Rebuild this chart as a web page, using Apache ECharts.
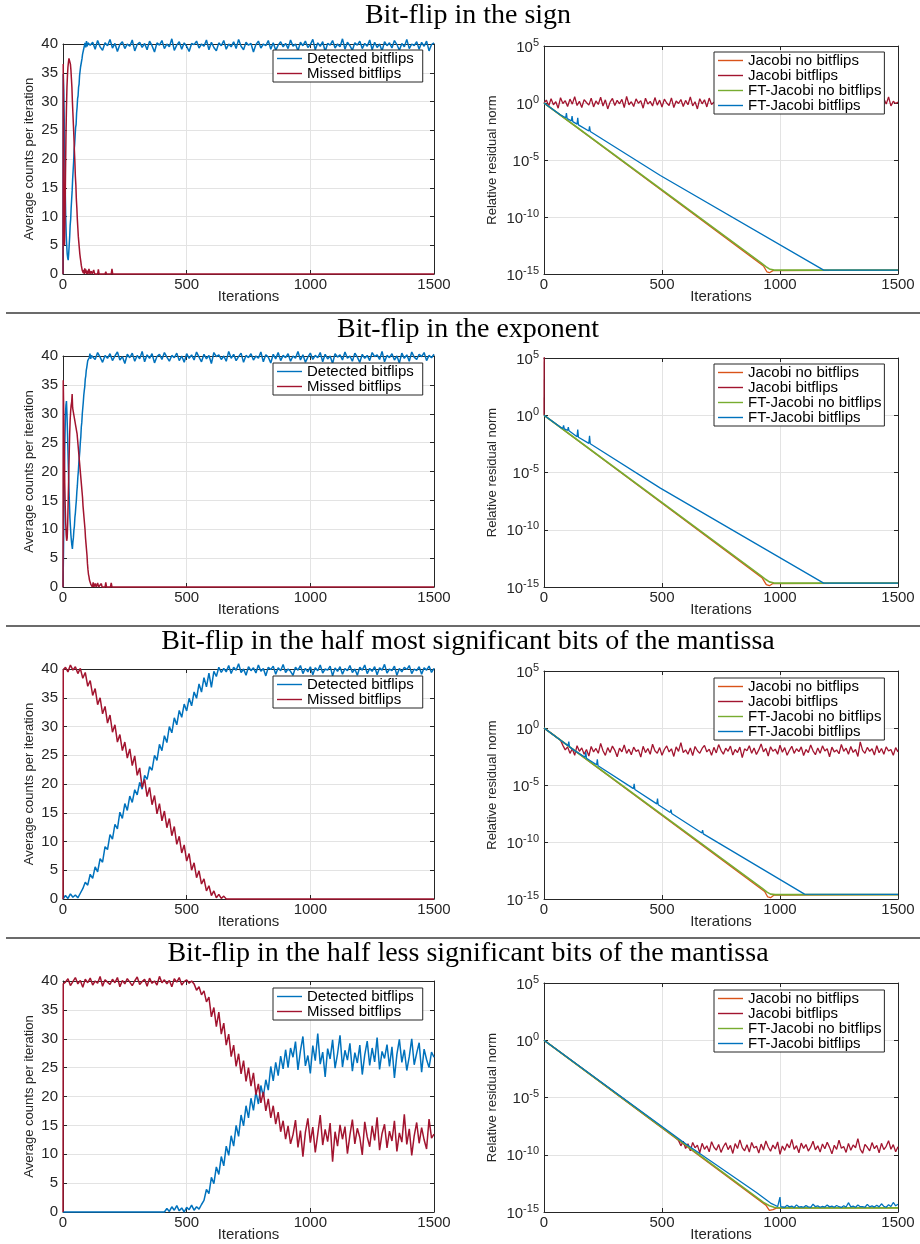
<!DOCTYPE html>
<html><head><meta charset="utf-8">
<script src="https://cdn.jsdelivr.net/npm/echarts@6.0.0/dist/echarts.min.js"></script>
<style>html,body{margin:0;padding:0;background:#fff}#c{width:920px;height:1244px}</style>
</head><body><div id="c"></div>
<script>
// ---------------- DATA ----------------
const STEP = 10; // spacing (iterations) of the sampled value arrays
const TITLES = ['Bit-flip in the sign', 'Bit-flip in the exponent',
  'Bit-flip in the half most significant bits of the mantissa',
  'Bit-flip in the half less significant bits of the mantissa'];
const LEFT_NAMES = ['Detected bitflips', 'Missed bitflips'];
const RIGHT_NAMES = ['Jacobi no bitflips', 'Jacobi bitflips', 'FT-Jacobi no bitflips', 'FT-Jacobi bitflips'];

// Panel 1 (sign) - counts
const det1Head = [[0,0],[1,34.8],[3,32],[5,27],[7,21],[9,15],[11,10],[13,7],[15,5],[17,3.5],[19,2.8],[21,2.4],[23,3.5],[25,5],[27,6.5],[29,8.5],[31,9.5],[33,11.5],[35,13],[37,14.5],[39,16.5],[41,18],[43,19.5],[45,21.5],[47,22.5],[49,24],[51,25.5],[53,26],[55,28],[57,29],[59,30.5],[61,31],[63,32.5],[65,33],[67,34.5],[69,34.8],[71,36],[73,36.2],[75,37],[77,37.5],[79,38.2],[81,38],[83,39],[86,39.3],[89,40.2],[92,39.4],[95,40.5],[98,39.6],[101,40.2]];
const det1Tail = [ // from iteration 110
 39.8,40.3,39.1,40.6,39.5,38.9,40.2,39.7,40.8,39.3,40.1,38.7,39.9,40.4,39.2,40.0,39.6,40.7,38.8,39.9,
 40.3,39.4,40.1,39.0,40.5,39.7,38.6,40.2,39.8,40.6,39.2,40.0,39.5,40.9,38.9,39.8,40.4,39.1,40.2,39.6,
 38.7,40.1,39.9,40.5,39.3,40.0,39.6,40.7,39.0,40.3,39.4,38.8,40.2,39.7,40.6,39.1,40.0,39.5,40.4,39.2,
 40.8,39.6,39.0,40.3,39.8,40.1,38.6,39.9,40.5,39.3,40.0,39.7,40.6,39.1,40.2,38.9,39.8,40.4,39.5,40.1,
 39.2,40.7,39.6,40.0,38.8,40.3,39.7,40.5,39.4,39.9,40.8,39.0,40.2,39.6,40.4,38.7,40.1,39.8,40.6,39.3,
 40.0,39.5,40.9,39.1,40.3,39.7,38.9,40.2,39.8,40.5,39.2,40.1,39.6,40.7,39.0,40.3,39.4,40.0,38.8,40.4,
 39.7,40.2,39.3,40.6,39.9,38.9,40.1,39.5,40.8,39.2,40.0,39.7,40.4,39.1,40.3,39.6,40.5,38.8,39.9,40.2];
const miss1 = [[0,0],[1,36.5],[2,28],[4,12],[6,5],[8,9],[10,17],[12,24],[14,29],[16,32.5],[18,34.5],[20,36],[22,36.8],[24,37.5],[26,37.2],[28,37.8],[30,36.5],[32,35.5],[34,34],[36,32.5],[38,30],[40,28],[42,26],[44,24],[46,21.5],[48,19.5],[50,17],[52,15.5],[54,13],[56,11.5],[58,9.5],[60,8],[62,6.5],[64,5.5],[66,4.5],[68,3.5],[70,2.8],[72,2.2],[74,1.5],[76,1.2],[78,0.6],[80,0.9],[82,0.2],[84,0.7],[86,0],[88,1],[90,0.2],[92,0.8],[95,0],[98,0.6],[101,0],[105,0.9],[109,0],[114,0.5],[118,0],[124,0.7],[128,0],[140,0],[143,0.8],[146,0],[170,0],[173,0.4],[176,0],[195,0],[198,0.9],[201,0],[1500,0]];

// Panel 2 (exponent) - counts
const det2Head = [[0,0],[2,6],[4,14],[6,21],[8,26],[10,30],[12,31.5],[14,32.2],[16,30],[18,27],[20,23.5],[22,20],[24,17],[26,14.5],[28,12],[30,10.5],[32,9],[34,8],[36,7.2],[38,6.6],[40,7.8],[42,8.5],[44,9.8],[46,10.5],[48,12],[50,12.8],[52,14],[54,15],[56,16.5],[58,17.5],[60,19],[62,20],[64,21.5],[66,22.5],[68,23.5],[70,25],[72,26],[74,27.7],[76,28.5],[78,30],[80,31],[82,32],[84,33.2],[86,34],[88,34.7],[90,36],[92,36.5],[94,37.5],[96,38],[98,38.6],[100,39.2],[103,38.9],[106,39.7],[109,40.4],[112,39.5],[115,40.1]];
const det2Tail = [ // from iteration 120
 40.2,39.4,40.6,39.8,38.9,40.1,39.6,40.4,39.2,40.0,40.7,39.3,39.9,38.7,40.3,39.7,40.5,39.1,40.1,39.5,
 40.8,39.0,40.2,39.6,40.4,38.8,39.9,40.3,39.4,40.6,39.8,39.1,40.1,39.7,40.5,39.2,40.0,38.9,40.4,39.6,
 40.2,39.3,40.7,39.8,39.0,40.3,39.5,40.1,38.7,40.6,39.9,40.2,39.4,40.0,39.1,40.8,39.6,40.3,39.2,39.9,
 40.5,38.9,40.1,39.7,40.4,39.3,40.0,39.6,40.7,39.0,40.2,39.8,38.8,40.3,39.5,40.6,39.2,40.1,39.7,40.4,
 39.1,40.0,39.6,40.8,39.3,40.2,38.9,39.8,40.5,39.4,40.1,39.7,40.6,39.0,40.3,39.5,40.0,38.7,40.4,39.8,
 40.2,39.3,40.7,39.6,40.0,39.1,40.5,39.8,38.9,40.3,39.6,40.1,39.2,40.6,39.9,40.2,39.4,40.8,39.0,40.1,
 39.7,40.4,39.3,40.0,38.8,40.5,39.6,40.2,39.1,40.7,39.8,39.4,40.3,39.9,40.6,39.2,40.1,39.7,40.3];
const miss2 = [[0,0],[1,35.8],[3,30],[5,24],[7,18],[9,14],[11,11],[13,9],[15,8],[17,8.5],[19,11],[21,15],[23,19],[25,23],[27,26.5],[29,29],[31,30.5],[33,31.5],[35,32],[37,33.4],[39,31],[41,30.5],[43,30.8],[45,29.5],[47,29.8],[49,28.5],[51,28],[53,27.5],[55,27],[57,26.5],[59,25.5],[61,24.5],[63,23.5],[65,22.5],[67,21.5],[69,20.5],[71,19.5],[73,18.5],[75,17.5],[77,16.5],[79,15.5],[81,14],[83,13],[85,12],[87,11],[89,10],[91,8.5],[93,7.5],[95,6.5],[97,5.5],[99,4],[101,3],[103,2.2],[105,1.8],[107,1.2],[110,1],[113,0.4],[116,0.7],[119,0],[122,0.8],[125,0],[130,0.6],[134,0],[140,0.7],[144,0],[152,0],[155,0.6],[158,0],[170,0],[173,0.8],[176,0],[192,0],[195,0.7],[198,0],[1500,0]];

// Panel 3 (high mantissa) - counts
const det3 = [ // from iteration 0
 0,0.6,0.1,0.9,0.3,0.7,0.2,1.0,
 1.8,2.9,2.4,4.3,3.6,5.6,4.7,7.0,6.4,9.1,8.6,11.2,10.4,13.0,12.2,15.1,14.0,16.6,15.4,17.9,16.8,19.0,
 18.1,20.3,19.1,21.5,20.8,23.0,22.4,25.0,24.1,26.9,25.8,28.4,27.2,30.0,28.9,31.5,30.3,32.8,31.6,33.9,
 32.7,34.9,33.6,36.0,34.9,37.4,36.0,38.5,36.9,39.3,36.8,39.6,38.7,40.3,39.4,
 40.1,39.5,40.6,39.2,40.3,39.8,40.9,39.4,40.0,38.9,40.4,39.7,40.2,39.3,40.7,39.6,40.1,38.8,40.3,39.9,
 40.5,39.1,40.2,39.7,40.8,39.4,40.0,39.6,38.9,40.3,39.8,40.6,39.2,40.1,39.5,40.4,39.0,40.2,39.7,40.7,
 39.3,40.0,39.8,40.5,38.8,40.2,39.6,40.4,39.1,40.1,39.7,40.6,39.4,40.0,38.9,40.3,39.8,40.7,39.2,40.1,
 39.6,40.4,39.0,40.2,39.8,40.8,39.3,40.0,39.7,40.5,38.9,40.1,39.5,40.3,39.9,40.6,39.2,40.0,39.7,40.4,
 39.1,40.2,39.8,40.5,39.4,40.1];
const miss3Head = [[0,0],[1,39.8]];
const miss3 = [ // from iteration 10
 40.3,39.5,40.7,39.8,40.4,39.2,40.1,
 38.4,39.4,37.0,38.0,35.4,36.6,33.8,35.0,32.2,33.5,30.6,32.0,29.0,30.3,27.3,28.6,25.8,27.3,24.5,26.1,
 23.2,24.9,21.5,22.8,19.4,20.8,17.8,19.4,16.4,18.0,14.8,16.6,13.6,15.3,12.4,14.0,11.0,12.6,9.5,10.9,
 8.0,9.4,6.6,7.9,5.0,6.3,3.7,4.9,2.6,3.5,1.4,2.3,0.6,1.4,0.2,0.8,0.1,0.5,0];
const miss3End = [[1500,0]];

// Panel 4 (low mantissa) - counts
const miss4Head = [[0,0],[1,39.5]];
const miss4 = [ // from iteration 10
 39.8,40.4,39.2,39.9,40.6,39.5,40.1,38.9,40.3,39.7,40.5,39.3,40.0,39.6,40.8,39.1,40.2,39.8,39.4,40.3,
 39.7,40.6,39.0,40.1,39.5,40.4,39.8,39.2,40.0,40.7,39.4,39.9,40.3,39.1,40.5,39.6,40.0,39.3,40.8,39.7,
 40.2,39.5,40.1,39.0,40.4,39.8,40.6,39.3,39.9,40.2,39.6,40.0,
 39.5,38.4,39.0,37.6,38.3,36.4,37.2,33.8,35.4,32.1,34.6,30.8,32.7,28.9,30.8,26.9,28.9,25.2,27.4,23.9,
 26.2,22.6,25.0,21.8,24.1,20.3,22.2,18.9,20.8,17.5,19.6,16.3,18.4,15.2,17.3,13.9,15.8,12.6,14.9,11.8,
 13.4,15.9,11.2,14.1,9.6,13.8,16.2,12.0,14.7,10.3,13.5,16.8,11.6,14.3,12.2,15.4,8.7,13.9,11.4,15.1,
 12.6,14.8,10.1,13.3,16.0,11.8,14.5,12.9,9.9,15.6,13.0,11.3,14.9,12.4,16.4,10.7,13.6,15.2,11.1,14.0,
 12.3,15.8,10.5,13.7,12.1,16.9,11.7,14.4,9.8,13.2,15.5,11.9,14.6,12.5,10.9,16.1,12.8,13.5];
const det4Head = [[0,0],[410,0]];
const det4 = [ // from iteration 420
 0.6,0.1,0.9,0.3,1.1,0.2,0.7,0.0,0.8,0.4,1.2,0.3,0.9,0.5,1.3,
 2.0,3.9,3.2,6.0,4.9,7.8,6.5,9.6,8.0,11.4,9.8,13.2,11.4,15.0,13.1,16.8,14.9,18.4,16.3,19.7,
 17.6,20.8,18.7,21.9,20.0,22.9,21.1,25.2,22.7,25.9,23.6,27.0,24.8,28.1,25.0,28.4,
 26.8,29.5,24.6,27.9,30.4,25.3,27.1,24.0,28.8,26.2,30.9,25.6,27.7,23.4,28.3,26.5,29.8,24.9,27.4,30.6,
 25.1,28.0,26.3,29.2,24.4,27.6,25.8,28.9,23.8,27.2,29.6,25.4,28.4,26.0,30.2,24.7,27.8,26.6,29.0,25.2,
 28.6,23.2,27.3,29.9,25.9,28.1,24.5,26.9,30.0,25.5,27.5,29.3,24.2,28.2,26.4,25.0,27.7,26.8];

// Residual norms
const jac1 = [[0,1],[930,5e-15],[945,1.5e-15],[955,1.3e-15],[970,2e-15],[1500,2.2e-15]];
const ftj1 = [[0,1],[920,9.5e-15],[940,4.5e-15],[955,2.8e-15],[975,2.2e-15],[1500,2.2e-15]];
const ftb1 = [[0,1],[69,9.3e-2],[92,5.1e-2],[95,1.3e-1],[98,4.4e-2],[116,2.7e-2],[119,7e-2],[122,2.3e-2],[140,1.4e-2],[143,5e-2],[146,1.2e-2],[190,3.5e-3],[193,8.9e-3],[196,3.2e-3],[493,4.4e-7],[1185,2.2e-15],[1500,2.2e-15]];
const jbf1 = [ // from iteration 0
 1,1.8,0.55,2.4,0.7,1.3,0.35,2.9,0.9,1.6,0.5,2.2,0.8,3.6,0.6,1.4,0.4,2.0,1.1,0.65,
 2.7,0.45,1.5,0.75,3.2,0.55,1.9,0.3,1.2,2.5,0.6,1.7,0.85,2.1,0.4,3.8,0.7,1.3,0.5,2.3,
 0.95,1.6,0.35,2.6,0.8,1.4,0.55,3.0,0.65,1.8,0.45,2.2,1.0,0.6,2.8,0.4,1.5,0.9,2.0,0.5,
 1.7,0.7,3.4,0.55,1.3,0.3,2.4,0.85,1.9,0.45,2.7,0.75,1.2,0.5,3.1,0.65,1.6,0.4,2.1,0.95,
 0.6,2.5,0.8,1.4,0.35,2.9,0.7,1.8,0.5,2.2,0.9,3.5,0.6,1.5,0.45,2.0,1.1,0.55,2.6,0.75,
 1.9,0.4,2.3,0.85,3.0,0.6,1.3,0.3,2.1,0.95,1.6,0.5,2.8,0.7,1.4,0.45,3.3,0.8,1.7,0.55,
 2.4,0.65,1.2,0.35,2.0,0.9,3.1,0.5,1.8,0.75,2.6,0.4,1.5,0.85,0.25,2.2,0.6,1.9,1.0,0.5,
 2.9,0.7,1.6,0.45,2.3,0.8,3.4,0.55,1.4,0.9,1.2];

const jac2 = [[0,1],[925,6e-15],[942,1.6e-15],[955,1.3e-15],[970,2e-15],[1500,2.2e-15]];
const jbf2 = [[0,1],[2,1e12]];
const ftj2 = [[0,1],[920,9.5e-15],[940,4.5e-15],[955,2.8e-15],[975,2.2e-15],[1500,2.2e-15]];
const ftb2 = [[0,1],[69,9.3e-2],[80,7e-2],[83,1.3e-1],[86,6.5e-2],[100,4.7e-2],[103,9e-2],[106,4.4e-2],[140,1.3e-2],[143,5.5e-2],[146,1.2e-2],[190,3.5e-3],[193,1.6e-2],[196,3.2e-3],[493,4.3e-7],[1185,2.2e-15],[1500,2.2e-15]];

const jac3 = [[0,1],[935,4.5e-15],[948,1.5e-15],[960,1.3e-15],[975,2.2e-15],[1500,2.4e-15]];
const ftj3 = [[0,1],[925,8.5e-15],[945,4e-15],[960,2.7e-15],[980,2.4e-15],[1500,2.4e-15]];
const ftb3 = [[0,1],[102,2.8e-2],[105,6.3e-2],[108,2.2e-2],[127,1.15e-2],[174,2.7e-3],[177,7.9e-3],[180,2.2e-3],[223,5.9e-4],[226,1.8e-3],[229,4.9e-4],[379,4.8e-6],[382,1.26e-5],[385,4e-6],[478,2.2e-7],[481,6.3e-7],[484,1.86e-7],[535,3.9e-8],[538,7e-8],[541,3.2e-8],[669,6.2e-10],[672,1.1e-9],[675,5.1e-10],[1104,2.7e-15],[1500,2.5e-15]];
const jbf3Head = [[0,1],[40,0.25],[70,0.085]];
const jbf3 = [ // from iteration 80
 0.03,0.012,0.022,0.006,0.015,0.004,0.028,0.009,0.018,0.005,0.013,0.0035,0.024,0.008,0.016,0.006,0.045,0.01,0.004,0.019,
 0.007,0.026,0.011,0.003,0.017,0.008,0.032,0.006,0.014,0.0045,0.021,0.009,0.012,0.0028,0.025,0.007,0.016,0.005,0.038,0.01,
 0.006,0.019,0.004,0.013,0.027,0.008,0.015,0.0032,0.022,0.009,0.052,0.007,0.012,0.005,0.018,0.0038,0.024,0.01,0.006,0.016,
 0.03,0.008,0.014,0.004,0.02,0.0065,0.035,0.011,0.005,0.017,0.009,0.026,0.0042,0.013,0.007,0.021,0.0025,0.015,0.01,0.028,
 0.006,0.018,0.0048,0.012,0.04,0.008,0.016,0.0035,0.023,0.009,0.014,0.005,0.031,0.0075,0.019,0.004,0.011,0.025,0.006,0.015,
 0.0085,0.022,0.0038,0.013,0.007,0.033,0.01,0.0045,0.018,0.006,0.027,0.0095,0.015,0.003,0.021,0.008,0.012,0.0055,0.036,0.009,
 0.017,0.005,0.024,0.0072,0.013,0.0032,0.06,0.011,0.006,0.02,0.0088,0.015,0.0042,0.028,0.0068,0.016,0.005,0.022,0.0095,0.013,
 0.004,0.019,0.008];

const jac4 = [[0,1],[940,4e-15],[955,1.4e-15],[970,1.6e-15],[985,2.2e-15],[1500,2.3e-15]];
const ftj4 = [[0,1],[930,7e-15],[955,3.5e-15],[975,2.6e-15],[1000,2.3e-15],[1500,2.3e-15]];
const ftb4Head = [[0,1],[600,9e-10],[900,5e-14],[960,6e-15],[990,3e-15],[997,3e-15],[1000,2e-14],[1003,3e-15]];
const ftb4Tail = [ // from iteration 1010
 3.1e-15,2.6e-15,3.8e-15,2.8e-15,3.3e-15,2.5e-15,4.2e-15,2.7e-15,3.0e-15,2.6e-15,
 3.6e-15,2.8e-15,2.5e-15,4.8e-15,2.9e-15,3.4e-15,2.6e-15,3.1e-15,2.7e-15,4.0e-15,
 2.8e-15,3.2e-15,2.6e-15,3.7e-15,2.9e-15,2.5e-15,3.5e-15,2.7e-15,6.5e-15,2.8e-15,
 3.3e-15,2.6e-15,4.1e-15,2.9e-15,3.0e-15,2.6e-15,4.6e-15,2.8e-15,3.4e-15,2.7e-15,
 3.9e-15,2.8e-15,5.2e-15,3.1e-15,2.6e-15,4.4e-15,3.0e-15,6.8e-15,3.5e-15,4.7e-15];
const jbf4Head = [[0,1],[560,3e-9]];
const jbf4 = [ // from iteration 570
 1.8e-9,6e-10,1.5e-9,3.5e-10,9e-10,2.2e-10,1.2e-9,4e-10,7e-10,1.5e-10,1.0e-9,3e-10,6e-10,1.8e-10,1.4e-9,4.5e-10,2.5e-10,8e-10,1.6e-10,5e-10,
 1.1e-9,2.8e-10,6.5e-10,1.3e-10,9.5e-10,3.5e-10,2e-9,4.2e-10,2.2e-10,7.5e-10,1.7e-10,1.2e-9,3.8e-10,5.5e-10,1.4e-10,8.5e-10,2.6e-10,1.6e-9,4.8e-10,2e-10,
 7e-10,3.2e-10,1.3e-9,1.1e-10,5.8e-10,2.4e-10,9e-10,4e-10,2.2e-9,3e-10,6.2e-10,1.5e-10,1.05e-9,3.6e-10,7.8e-10,2.1e-10,4.6e-10,1.5e-9,2.7e-10,6e-10,
 1.7e-10,8.8e-10,3.3e-10,1.25e-9,4.4e-10,1.2e-10,6.8e-10,2.9e-10,1.9e-9,3.7e-10,5.2e-10,1.6e-10,9.8e-10,2.5e-10,7.2e-10,4.1e-10,2.6e-9,3.1e-10,1.35e-10,8e-10,
 4.5e-10,2.2e-10,1.15e-9,3.4e-10,6.6e-10,1.45e-10,1.0e-9,2.8e-10,5.4e-10,1.7e-9,3e-10,7.6e-10,1.8e-10,5e-10];

// ---------------- BUILD ----------------
function seq(start, values) { return values.map((v, i) => [start + i * STEP, v]); }

const BLUE = '#0072BD', RED = '#A2142F', ORANGE = '#D95319', GREEN = '#77AC30';
const LEFT_COLORS = [BLUE, RED];
const RIGHT_COLORS = [ORANGE, RED, GREEN, BLUE];
const AX = '#262626', GRIDC = '#e3e3e3';
const SANS = "'Liberation Sans', Arial, Helvetica, sans-serif";
const SERIF = "'Liberation Serif', 'Times New Roman', serif";

const LEFT_DATA = [
  [det1Head.concat(seq(110, det1Tail)), miss1],
  [det2Head.concat(seq(120, det2Tail)), miss2],
  [seq(0, det3), miss3Head.concat(seq(10, miss3), miss3End)],
  [det4Head.concat(seq(420, det4)), miss4Head.concat(seq(10, miss4))]
];
const RIGHT_DATA = [
  [jac1, seq(0, jbf1), ftj1, ftb1],
  [jac2, jbf2, ftj2, ftb2],
  [jac3, jbf3Head.concat(seq(80, jbf3)), ftj3, ftb3],
  [jac4, jbf4Head.concat(seq(570, jbf4)), ftj4, ftb4Head.concat(seq(1010, ftb4Tail))]
];

const L_GRIDS = [{top:44,height:230},{top:356,height:231},{top:669,height:230},{top:981,height:231}];
const R_GRIDS = [{top:46,height:228},{top:358,height:229},{top:671,height:228},{top:983,height:229}];
const L_LEG = [50, 363, 676, 988];
const R_LEG = [52, 364, 678, 990];
const TITLE_Y = [15.5, 330, 642, 954];
const SEP_Y = [313, 626, 938];

const grid = [], xAxis = [], yAxis = [], series = [], legend = [], graphic = [];

function addAxes(g, isLog) {
  const axisLine = {show:true, onZero:false, lineStyle:{color:AX, width:1}};
  const axisTick = {show:true, inside:true, length:4, lineStyle:{color:AX, width:1}};
  const xBase = {type:'value', gridIndex:g, min:0, max:1500, interval:500, axisLine, axisTick};
  xAxis.push(Object.assign({}, xBase, {position:'bottom',
    splitLine:{show:true, lineStyle:{color:GRIDC, width:1}},
    axisLabel:{show:true, margin:3, color:AX, fontSize:15, fontFamily:SANS, formatter: v => String(v)},
    name:'Iterations', nameLocation:'middle', nameGap:15, nameMoveOverlap:false,
    nameTextStyle:{color:AX, fontSize:15, fontFamily:SANS}}));
  xAxis.push(Object.assign({}, xBase, {position:'top', splitLine:{show:false}, axisLabel:{show:false}}));
  let yBase;
  if (isLog) {
    yBase = {type:'log', logBase:10, gridIndex:g, min:1e-15, max:1e5, interval:5, axisLine, axisTick};
  } else {
    yBase = {type:'value', gridIndex:g, min:0, max:40, interval:5, axisLine, axisTick};
  }
  const label = isLog ? {
    show:true, margin:5, color:AX, fontFamily:SANS, hideOverlap:false,
    formatter: v => '{b|10}{s|' + Math.round(Math.log10(v)) + '}',
    rich:{ b:{fontSize:15, lineHeight:18, verticalAlign:'bottom', color:AX, fontFamily:SANS},
           s:{fontSize:11, lineHeight:11, verticalAlign:'top', color:AX, fontFamily:SANS} }
  } : {show:true, margin:5, color:AX, fontSize:15, fontFamily:SANS};
  yAxis.push(Object.assign({}, yBase, {position:'left',
    splitLine:{show:true, lineStyle:{color:GRIDC, width:1}},
    axisLabel:label,
    name: isLog ? 'Relative residual norm' : 'Average counts per iteration',
    nameLocation:'middle', nameGap: isLog ? 45 : 27, nameMoveOverlap:false,
    nameTextStyle:{color:AX, fontSize:13, fontFamily:SANS}}));
  yAxis.push(Object.assign({}, yBase, {position:'right', splitLine:{show:false}, axisLabel:{show:false}}));
}

function addLine(g, name, color, data, clip, width) {
  series.push({type:'line', name, data, xAxisIndex:2*g, yAxisIndex:2*g,
    symbol:'none', showSymbol:false, clip, silent:true, animation:false,
    color, lineStyle:{color, width}, itemStyle:{color}});
}

function makeLegend(names, colors, left, top, padRight) {
  return {data:names.map((n, i) => ({name:n, icon:'rect',
      itemStyle:{color:colors[i], borderWidth:0, opacity:1}})),
    orient:'vertical', left, top, selectedMode:false,
    itemWidth:25, itemHeight:1.4, itemGap:0, padding:[1, padRight, 1, 4],
    backgroundColor:'#fff', borderColor:AX, borderWidth:1, borderRadius:0,
    textStyle:{color:'#000', fontSize:15, fontFamily:SANS, lineHeight:13}};
}

for (let p = 0; p < 4; p++) {
  const gl = 2*p, gr = 2*p + 1;
  grid.push({left:63, width:371, top:L_GRIDS[p].top, height:L_GRIDS[p].height, containLabel:false});
  grid.push({left:544, width:354, top:R_GRIDS[p].top, height:R_GRIDS[p].height, containLabel:false});
  addAxes(gl, false);
  addAxes(gr, true);
  addLine(gl, LEFT_NAMES[0], BLUE, LEFT_DATA[p][0], false, 1.5);
  addLine(gl, LEFT_NAMES[1], RED, LEFT_DATA[p][1], false, 1.5);
  const rw = [1.3, 1.3, 1.6, 1.3];
  for (let k = 0; k < 4; k++) addLine(gr, RIGHT_NAMES[k], RIGHT_COLORS[k], RIGHT_DATA[p][k], true, rw[k]);
  legend.push(makeLegend(LEFT_NAMES, LEFT_COLORS, 273, L_LEG[p], 9));
  legend.push(makeLegend(RIGHT_NAMES, RIGHT_COLORS, 714, R_LEG[p], 3));
  graphic.push({type:'text', x:468, y:TITLE_Y[p], style:{text:TITLES[p], fill:'#000',
    font:'28px ' + SERIF, textAlign:'center', textVerticalAlign:'middle'}});
}
SEP_Y.forEach(y => graphic.push({type:'line', shape:{x1:6, y1:y, x2:920, y2:y},
  style:{stroke:'#3a3a3a', lineWidth:1.4}}));

const chart = echarts.init(document.getElementById('c'), null, {renderer:'canvas'});
chart.setOption({backgroundColor:'#fff', animation:false, grid, xAxis, yAxis, series, legend, graphic});
</script>
</body></html>
